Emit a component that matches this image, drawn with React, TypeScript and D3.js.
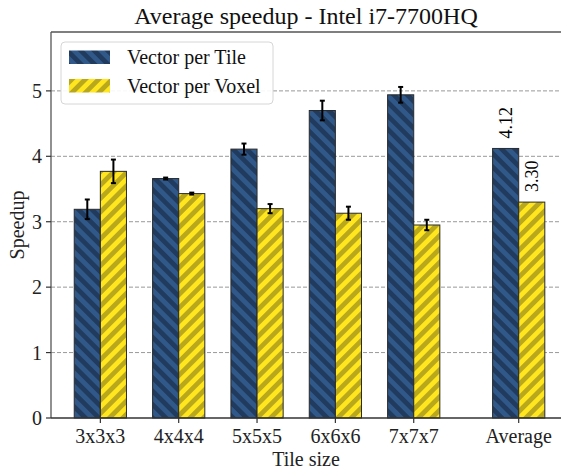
import React from 'react';
import * as d3 from 'd3';

// chart data
const categories = ['3x3x3', '4x4x4', '5x5x5', '6x6x6', '7x7x7', 'Average'];
const positions = [0, 1, 2, 3, 4, 5.34];
const tileValues = [3.19, 3.66, 4.11, 4.70, 4.94, 4.12];
const tileErrors = [0.15, 0.015, 0.085, 0.15, 0.12, 0];
const voxelValues = [3.77, 3.43, 3.20, 3.13, 2.95, 3.30];
const voxelErrors = [0.18, 0.015, 0.07, 0.10, 0.08, 0];
const yTicks = [0, 1, 2, 3, 4, 5];
const seriesNames = ['Vector per Tile', 'Vector per Voxel'];
const avgLabels = ['4.12', '3.30'];

const W = 561;
const H = 471;
const m = { left: 51, right: 0, top: 32, bottom: 53 };
const FONT = '"Liberation Serif", "DejaVu Serif", serif';
const HP = 9.5; // hatch period (perpendicular)

export default function App() {
  // scales
  const x = d3.scaleLinear().domain([-0.63, 5.88]).range([m.left, W - m.right]);
  const y = d3.scaleLinear().domain([0, 5.9]).range([H - m.bottom, m.top]);
  const bw = x(1 / 3) - x(0);
  const y0 = y(0);

  const series = [
    { vals: tileValues, errs: tileErrors, fill: 'url(#hatchTile)', off: -1 },
    { vals: voxelValues, errs: voxelErrors, fill: 'url(#hatchVoxel)', off: 0 },
  ];

  return (
    <svg width={W} height={H} style={{ position: 'absolute', left: 0, top: 0, fontFamily: FONT }}>
      <defs>
        <pattern id="hatchTile" patternUnits="userSpaceOnUse" width={HP} height={HP} patternTransform="rotate(-45)">
          <rect width={HP} height={HP} fill="#30598a" />
          <rect width={HP / 2} height={HP} fill="#213b5e" />
        </pattern>
        <pattern id="hatchVoxel" patternUnits="userSpaceOnUse" width={HP} height={HP} patternTransform="rotate(45)">
          <rect width={HP} height={HP} fill="#ffe61f" />
          <rect width={HP / 2} height={HP} fill="#b9a71c" />
        </pattern>
      </defs>

      {/* grid */}
      {yTicks.filter(t => t > 0).map(t => (
        <line key={t} x1={m.left} x2={W} y1={y(t)} y2={y(t)} stroke="#999" strokeWidth={1} strokeDasharray="4,2" />
      ))}

      {/* bars */}
      {series.map((s, si) => (
        <g key={si}>
          {s.vals.map((v, i) => {
            const bx = x(positions[i]) + s.off * bw;
            return (
              <rect key={i} x={bx} y={y(v)} width={bw} height={y0 - y(v)} fill={s.fill} stroke="#2a2a2a" strokeWidth={1} />
            );
          })}
        </g>
      ))}

      {/* error bars */}
      {series.map((s, si) => (
        <g key={'e' + si} stroke="#000" strokeWidth={2}>
          {s.vals.map((v, i) => {
            if (!s.errs[i]) return null;
            const cx = x(positions[i]) + s.off * bw + bw / 2;
            const yt = y(v + s.errs[i]);
            const yb = y(v - s.errs[i]);
            return (
              <g key={i}>
                <line x1={cx} x2={cx} y1={yt} y2={yb} />
                <line x1={cx - 2.5} x2={cx + 2.5} y1={yt} y2={yt} />
                <line x1={cx - 2.5} x2={cx + 2.5} y1={yb} y2={yb} />
              </g>
            );
          })}
        </g>
      ))}

      {/* average value labels */}
      {series.map((s, si) => {
        const i = positions.length - 1;
        const cx = x(positions[i]) + s.off * bw + bw / 2;
        const ty = y(s.vals[i]) - 10;
        return (
          <text key={'l' + si} transform={`translate(${cx},${ty}) rotate(-90)`} dy="0.35em" fontSize={18} fill="#000">
            {avgLabels[si]}
          </text>
        );
      })}

      {/* spines */}
      <line x1={m.left} x2={m.left} y1={m.top} y2={y0} stroke="#555" strokeWidth={1.3} />
      <line x1={m.left} x2={W} y1={m.top} y2={m.top} stroke="#555" strokeWidth={1.3} />
      <line x1={m.left} x2={W} y1={y0} y2={y0} stroke="#333" strokeWidth={1.3} />

      {/* y axis */}
      {yTicks.map(t => (
        <g key={t}>
          <line x1={m.left - 5} x2={m.left} y1={y(t)} y2={y(t)} stroke="#333" strokeWidth={1.2} />
          <text x={m.left - 9} y={y(t)} dy="0.35em" textAnchor="end" fontSize={20} fill="#222">{t}</text>
        </g>
      ))}
      <text transform={`translate(24,${(m.top + y0) / 2}) rotate(-90)`} textAnchor="middle" fontSize={20} fill="#222">Speedup</text>

      {/* x axis */}
      {categories.map((c, i) => (
        <g key={c}>
          <line x1={x(positions[i])} x2={x(positions[i])} y1={y0} y2={y0 + 5} stroke="#333" strokeWidth={1.2} />
          <text x={x(positions[i])} y={443} textAnchor="middle" fontSize={20} fill="#222">{c}</text>
        </g>
      ))}
      <text x={(m.left + W) / 2} y={466} textAnchor="middle" fontSize={20} fill="#222">Tile size</text>

      {/* title */}
      <text x={(m.left + W) / 2} y={24} textAnchor="middle" fontSize={24} fill="#111">Average speedup - Intel i7-7700HQ</text>

      {/* legend */}
      <rect x={61} y={42} width={212} height={62} rx={4} fill="#fff" fillOpacity={0.92} stroke="#d6d6d6" strokeWidth={1} />
      {seriesNames.map((n, i) => (
        <g key={n}>
          <rect x={69} y={50.5 + i * 28.5} width={41} height={13.5} fill={series[i].fill} />
          <text x={127} y={64 + i * 28.5} fontSize={20} fill="#111">{n}</text>
        </g>
      ))}
    </svg>
  );
}
